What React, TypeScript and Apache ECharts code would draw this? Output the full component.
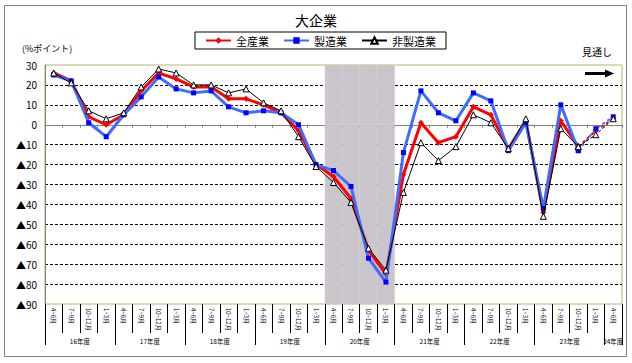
import React, { useEffect, useRef } from 'react';
import * as echarts from 'echarts';

const years = ['16年度', '17年度', '18年度', '19年度', '20年度', '21年度', '22年度', '23年度', '24年度'];
const quarters = ['4~6月', '7~9月', '10~12月', '1~3月'];
const lastYearQuarters = 1;

const categories: string[] = [];
years.forEach((y, yi) =>
  quarters.forEach((q, qi) => {
    if (yi < years.length - 1 || qi < lastYearQuarters) categories.push(y + '|' + q);
  })
);

// 全産業
const allIndustry = [26, 22, 4, 0, 5, 17, 26, 23, 19, 19, 13, 13, 10, 6, -3, -20, -26, -37, -63, -75, -25, 1, -9, -6, 9, 5, -12, 2, -44, 2, -11, -3, 3];
// 製造業
const manufacturing = [25, 22, 1, -6, 5, 14, 24, 18, 16, 17, 9, 6, 7, 6, 0, -20, -23, -31, -67, -79, -14, 17, 6, 2, 16, 12, -13, 1, -42, 10, -13, -2, 4];
// 非製造業
const nonManufacturing = [26, 21, 7, 3, 6, 19, 28, 26, 20, 20, 16, 18, 11, 7, -6, -21, -29, -39, -62, -73, -34, -9, -18, -11, 5, 1, -12, 3, -46, -2, -11, -5, 3];

const outlookFrom = 30; // index of last actual value; dashed from here
const shadedYear = '20年度';
const yMin = -90;
const yMax = 30;
const yStep = 10;

const FONT = "'Noto Sans CJK JP', 'Noto Sans', sans-serif";
const SHADE = '#cac5ca';

export default function App() {
  const ref = useRef<HTMLDivElement>(null);
  useEffect(() => {
    if (!ref.current) return;
    const chart = echarts.init(ref.current, undefined, { renderer: 'svg' });

    const solid = (a: number[]) => a.map((v, i) => (i <= outlookFrom ? v : null));
    const dashed = (a: number[]) => a.map((v, i) => (i >= outlookFrom ? v : null));

    const nLines = Math.round((yMax - yMin) / yStep) + 1;
    const splitColors: string[] = [];
    for (let i = 0; i < nLines; i++) {
      const v = yMin + i * yStep;
      splitColors.push(v === yMin || v === yMax || v === 0 ? 'rgba(0,0,0,0)' : '#000000');
    }

    const red = { line: '#ff0000', mark: '#ff0000' };
    const blue = { line: '#3d6cff', mark: '#0000ff' };

    const option: any = {
      animation: false,
      backgroundColor: '#ffffff',
      textStyle: { fontFamily: FONT },
      title: {
        text: '大企業',
        left: 'center',
        top: 8,
        textStyle: { fontSize: 14, fontWeight: 'normal', color: '#000', fontFamily: FONT },
      },
      legend: {
        data: ['全産業', '製造業', '非製造業'],
        left: 195,
        top: 32,
        borderColor: '#000',
        borderWidth: 1,
        padding: [3, 10, 3, 10],
        itemGap: 14,
        itemWidth: 25,
        itemHeight: 8,
        textStyle: { fontSize: 11, color: '#000', fontFamily: FONT },
      },
      grid: {
        left: 45,
        right: 10,
        top: 65,
        bottom: 59,
        show: true,
        borderColor: '#b8b46c',
        borderWidth: 1,
        backgroundColor: 'rgba(0,0,0,0)',
      },
      xAxis: [
        {
          type: 'category',
          data: categories,
          position: 'bottom',
          axisLine: { show: true, onZero: true, lineStyle: { color: '#808080', width: 1 } },
          axisTick: { show: true, interval: 0, length: 3, lineStyle: { color: '#808080' } },
          axisLabel: { show: false },
          splitLine: { show: false },
        },
        {
          type: 'category',
          data: categories,
          position: 'bottom',
          axisLine: { show: false, onZero: false },
          axisTick: { show: true, interval: 0, length: 29, lineStyle: { color: '#000' } },
          axisLabel: {
            interval: 0,
            rotate: -90,
            fontSize: 6,
            margin: 4,
            color: '#000',
            fontFamily: FONT,
            formatter: (v: string) => v.split('|')[1],
          },
          splitLine: { show: false },
        },
        {
          type: 'category',
          data: categories,
          position: 'bottom',
          offset: 29,
          axisLine: { show: false, onZero: false },
          axisTick: {
            show: true,
            interval: (i: number) => i % quarters.length === 0,
            length: 12,
            lineStyle: { color: '#000' },
          },
          axisLabel: {
            interval: 0,
            margin: 5,
            fontSize: 6.5,
            color: '#000',
            fontFamily: FONT,
            formatter: (v: string, i: number) => {
              const y = v.split('|')[0];
              const inYear = categories.filter((c) => c.startsWith(y)).length;
              const first = categories.findIndex((c) => c.startsWith(y));
              if (inYear === quarters.length) {
                return i === first + 1 ? '{m|' + y + '}' : '';
              }
              return i === first ? '{e|' + y + '}' : '';
            },
            rich: {
              m: { padding: [0, 0, 0, 17.5], fontSize: 6.5, color: '#000', fontFamily: FONT },
              e: { fontSize: 6.5, color: '#000', fontFamily: FONT },
            },
          },
          splitLine: { show: false },
        },
      ],
      yAxis: {
        type: 'value',
        min: yMin,
        max: yMax,
        interval: yStep,
        axisLine: { show: true, lineStyle: { color: '#808080' } },
        axisTick: { show: false },
        axisLabel: {
          fontSize: 10,
          color: '#000',
          margin: 8,
          fontFamily: FONT,
          formatter: (v: number) => (v < 0 ? '▲' + -v : String(v)),
        },
        splitLine: { show: true, lineStyle: { color: splitColors, type: [3, 2], width: 1 } },
      },
      series: [
        {
          name: 'shadeUp',
          type: 'bar',
          stack: 'shade',
          silent: true,
          data: categories.map((c) => (c.startsWith(shadedYear) ? yMax : null)),
          barCategoryGap: '0%',
          itemStyle: { color: SHADE, borderColor: SHADE, borderWidth: 1 },
          z: 1,
        },
        {
          name: 'shadeDown',
          type: 'bar',
          stack: 'shade',
          silent: true,
          data: categories.map((c) => (c.startsWith(shadedYear) ? yMin : null)),
          barCategoryGap: '0%',
          itemStyle: { color: SHADE, borderColor: SHADE, borderWidth: 1 },
          z: 1,
        },
        {
          name: '全産業',
          type: 'line',
          data: solid(allIndustry),
          symbol: 'diamond',
          symbolSize: 6,
          lineStyle: { color: red.line, width: 3 },
          itemStyle: { color: red.mark },
          z: 3,
        },
        {
          name: '製造業',
          type: 'line',
          data: solid(manufacturing),
          symbol: 'rect',
          symbolSize: 5,
          lineStyle: { color: blue.line, width: 3 },
          itemStyle: { color: blue.mark },
          z: 4,
        },
        {
          name: '非製造業',
          type: 'line',
          data: solid(nonManufacturing),
          symbol: 'triangle',
          symbolSize: 6,
          lineStyle: { color: '#000', width: 1 },
          itemStyle: { color: '#fff', borderColor: '#000', borderWidth: 1 },
          z: 5,
        },
        {
          name: '全産業(見通し)',
          type: 'line',
          data: dashed(allIndustry),
          symbol: 'diamond',
          symbolSize: 6,
          lineStyle: { color: red.line, width: 2, type: [3, 3] },
          itemStyle: { color: red.mark },
          z: 3,
        },
        {
          name: '製造業(見通し)',
          type: 'line',
          data: dashed(manufacturing),
          symbol: 'rect',
          symbolSize: 5,
          lineStyle: { color: blue.line, width: 2, type: [3, 3] },
          itemStyle: { color: blue.mark },
          z: 4,
        },
        {
          name: '非製造業(見通し)',
          type: 'line',
          data: dashed(nonManufacturing),
          symbol: 'triangle',
          symbolSize: 6,
          lineStyle: { color: '#000', width: 1, type: [3, 2] },
          itemStyle: { color: '#fff', borderColor: '#000', borderWidth: 1 },
          z: 5,
        },
      ],
      graphic: [
        {
          type: 'rect',
          silent: true,
          shape: { x: 4.5, y: 5.5, width: 622, height: 351 },
          style: { fill: 'none', stroke: '#808080', lineWidth: 1 },
        },
        {
          type: 'text',
          left: 22,
          top: 44,
          style: { text: '(%ポイント)', fontSize: 9, fill: '#000', fontFamily: FONT },
        },
        {
          type: 'text',
          left: 582,
          top: 46,
          style: { text: '見通し', fontSize: 10, fill: '#000', fontFamily: FONT },
        },
        {
          type: 'line',
          shape: { x1: 585, y1: 73.5, x2: 607, y2: 73.5 },
          style: { stroke: '#000', lineWidth: 3 },
        },
        {
          type: 'polygon',
          shape: { points: [[605, 69.5], [614, 73.5], [605, 77.5]] },
          style: { fill: '#000' },
        },
      ],
    };

    chart.setOption(option);
    return () => chart.dispose();
  }, []);

  return (
    <div
      ref={ref}
      style={{ position: 'fixed', left: 0, top: 0, width: 632, height: 363, background: '#fff' }}
    />
  );
}
